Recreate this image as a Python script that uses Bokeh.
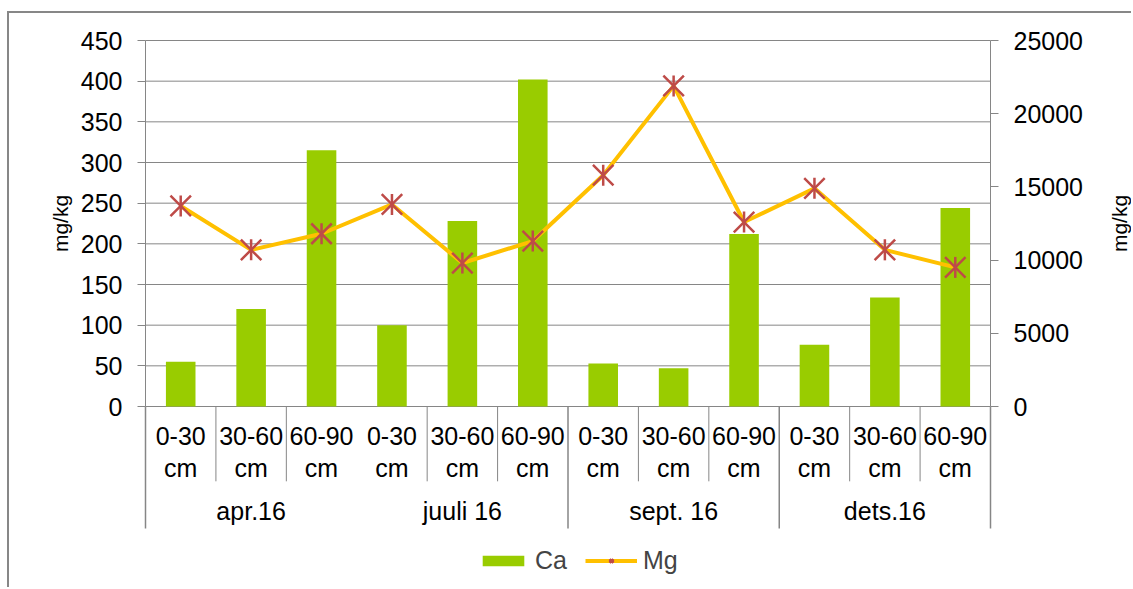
import numpy as np
from bokeh.plotting import figure
from bokeh.models import (Range1d, LinearAxis, FixedTicker, Legend,
                          LegendItem)
from bokeh.core.properties import value
from bokeh.embed import file_html
from bokeh.resources import INLINE

# --- data -------------------------------------------------------------
months = ["apr.16", "juuli 16", "sept. 16", "dets.16"]
depths = ["0-30 cm", "30-60 cm", "60-90 cm"]
ca = [55, 120, 315, 100, 228, 402, 53, 47, 212, 76, 134, 244]            # mg/kg
mg = [13700, 10700, 11800, 13800, 9800, 11300,
      15800, 21900, 12600, 14900, 10700, 9500]                               # mg/kg
ca_ticks = list(range(0, 451, 50))
mg_ticks = list(range(0, 25001, 5000))
unit = "mg/kg"

# positions of the separator lines under the category axis (slot boundaries)
sub_breaks = [1, 2, 4, 5, 7, 8, 10, 11]
group_breaks = [0, 6, 9, 12]

# --- layout (pixels) -------------------------------------------------
FONT_NAME = "Liberation Sans"
FONT = value(FONT_NAME)
FS = "25px"
GREY = "#868686"
CANVAS_W, CANVAS_H = 1124, 576
PLOT_LEFT, PLOT_TOP, PLOT_W, PLOT_H = 136, 27, 845, 366

CA_MAX = ca_ticks[-1]
MG_MAX = mg_ticks[-1]
n = len(ca)
xc = np.arange(n) + 0.5

# the frame covers the whole canvas; the plotting area is a region of it
slot = PLOT_W / n
k = PLOT_H / CA_MAX                     # pixels per Ca unit
x_lo = -PLOT_LEFT / slot
x_hi = (CANVAS_W - PLOT_LEFT) / slot
y_hi = CA_MAX + PLOT_TOP / k
y_lo = CA_MAX - (CANVAS_H - PLOT_TOP) / k
mg_scale = MG_MAX / CA_MAX

p = figure(width=CANVAS_W, height=CANVAS_H,
           x_range=Range1d(x_lo, x_hi), y_range=Range1d(y_lo, y_hi),
           x_axis_location=None, y_axis_location=None,
           output_backend="svg", toolbar_location=None,
           min_border=0)
p.outline_line_color = None
p.background_fill_color = "white"
p.border_fill_color = "white"
p.xgrid.visible = False
p.ygrid.visible = False
p.extra_y_ranges = {"mg": Range1d(y_lo * mg_scale, y_hi * mg_scale)}
p.styles = {"margin-left": "7px", "margin-top": "11px",
            "border-left": "2px solid #878787",
            "border-top": "2px solid #878787"}

# horizontal gridlines across the plotting area
p.segment(x0=[0] * len(ca_ticks), x1=[n] * len(ca_ticks), y0=ca_ticks,
          y1=ca_ticks, line_color=GREY, line_width=1)


def style_axis(ax):
    ax.axis_line_color = GREY
    ax.major_tick_line_color = GREY
    ax.major_tick_out = 8
    ax.major_tick_in = 0
    ax.minor_tick_line_color = None
    ax.major_label_text_font = FONT_NAME
    ax.major_label_text_font_size = FS
    ax.major_label_text_color = "black"
    ax.major_label_standoff = 15


left = LinearAxis(ticker=FixedTicker(ticks=ca_ticks), bounds=(0, CA_MAX),
                  fixed_location=0)
style_axis(left)
p.add_layout(left, "left")

right = LinearAxis(y_range_name="mg", ticker=FixedTicker(ticks=mg_ticks),
                   bounds=(0, MG_MAX), fixed_location=n)
style_axis(right)
p.add_layout(right, "right")

# axis titles, centred on the value span of each axis
p.text(x=[0, n], y=[CA_MAX / 2] * 2, x_offset=[-85, 129], text=[unit] * 2,
       angle=np.pi / 2, text_align="center", text_baseline="middle",
       text_font=FONT, text_font_size="21px", text_color="black")

# bars (Ca) and line (Mg)
bars = p.vbar(x=xc, top=ca, bottom=0, width=0.42, fill_color="#99CC00",
              line_color=None)
ln = p.line(x=xc, y=mg, y_range_name="mg", line_color="#FFC000",
            line_width=4)
mk1 = p.scatter(x=xc, y=mg, y_range_name="mg", marker="x", size=29,
                line_color="#BE4B48", line_width=2.5)
mk2 = p.scatter(x=xc, y=mg, y_range_name="mg", marker="dash", size=21,
                angle=np.pi / 2, line_color="#BE4B48", line_width=2.5)

# category axis drawn underneath the zero line
p.segment(x0=sub_breaks, x1=sub_breaks, y0=[0] * len(sub_breaks),
          y1=[-92] * len(sub_breaks), line_color=GREY, line_width=1)
p.segment(x0=group_breaks, x1=group_breaks, y0=[0] * len(group_breaks),
          y1=[-150] * len(group_breaks), line_color=GREY, line_width=1.5)

depth_labels = [d.replace(" ", "\n") for _ in months for d in depths]
p.text(x=xc, y=[-56] * n, text=depth_labels, text_align="center",
       text_baseline="middle", text_font=FONT, text_font_size=FS,
       text_color="black", text_line_height=1.15)

mx = np.arange(len(months)) * len(depths) + len(depths) / 2
p.text(x=mx, y=[-129] * len(months), text=months, text_align="center",
       text_baseline="middle", text_font=FONT, text_font_size=FS,
       text_color="black")

legend = Legend(items=[LegendItem(label="Ca", renderers=[bars]),
                       LegendItem(label="Mg", renderers=[ln, mk1, mk2])],
                orientation="horizontal", location=(PLOT_LEFT + 332, 14),
                label_text_font=FONT_NAME, label_text_font_size=FS,
                glyph_width=52, glyph_height=13, label_standoff=6,
                spacing=18, padding=4, margin=0, border_line_color=None,
                background_fill_alpha=0)
p.add_layout(legend, "center")

open("out.html", "w").write(file_html(p, INLINE))
